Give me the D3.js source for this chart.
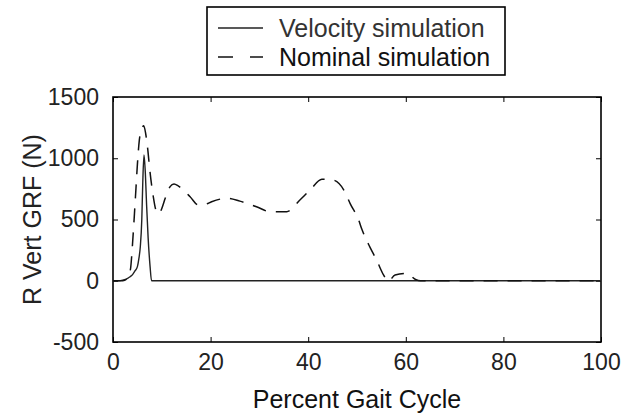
<!DOCTYPE html>
<html>
<head>
<meta charset="utf-8">
<script src="https://cdn.jsdelivr.net/npm/d3@7"></script>
<style>
  body { margin: 0; background: #fff; }
  svg text { font-family: "Liberation Sans", Arial, Helvetica, sans-serif; }
</style>
</head>
<body>
<svg id="chart" width="634" height="415"></svg>
<script>
// percent gait cycle vs vertical ground reaction force (N)
const velX = [0, 1, 2, 3, 3.5, 4, 4.5, 5, 5.3, 5.6, 5.9, 6.1, 6.35, 6.6, 6.9, 7.2, 7.6, 7.9, 10, 30, 60, 100];
const velY = [0, 0, 5, 20, 33, 50, 80, 115, 180, 280, 500, 800, 1026, 900, 604, 350, 115, 0, 0, 0, 0, 0];

const nomX = [0, 2, 3, 3.6, 4, 4.4, 4.7, 5.0, 5.4, 5.9, 6.3, 6.7, 7.1, 7.5, 8.2, 8.9, 9.4, 10.0, 10.7, 11.7, 12.5, 13.4, 15.8, 17.5, 19, 20.2, 23.3, 26, 29.4, 32.2, 35.6, 38.3, 40.4, 42.8, 45.1, 47.5, 48.6, 50.3, 51.0, 52.7, 54.0, 55.4, 56.4, 57.8, 60.2, 62, 63, 100];
const nomY = [0, 0, 20, 100, 300, 550, 750, 950, 1150, 1240, 1265, 1200, 1080, 920, 700, 564, 545, 590, 673, 768, 790, 773, 686, 618, 625, 645, 673, 650, 604, 564, 564, 659, 741, 828, 822, 727, 630, 500, 420, 270, 170, 50, -5, 47, 61, 10, 0, 0];

const xTicks = [0, 20, 40, 60, 80, 100];
const yTicks = [-500, 0, 500, 1000, 1500];
const seriesNames = ["Velocity simulation", "Nominal simulation"];

const svg = d3.select("#chart");
const margin = { top: 97, right: 33, bottom: 73, left: 113 };
const width = 634 - margin.left - margin.right;
const height = 415 - margin.top - margin.bottom;

const g = svg.append("g").attr("transform", `translate(${margin.left},${margin.top})`);

const x = d3.scaleLinear().domain([0, 100]).range([0, width]);
const y = d3.scaleLinear().domain([-500, 1500]).range([height, 0]);

// axes with inward ticks, like matlab (plain hyphen for negatives)
const tick = 5;
const fmt = (d) => String(d);
g.append("g")
  .attr("transform", `translate(0,${height})`)
  .call(d3.axisBottom(x).tickValues(xTicks).tickSize(-tick).tickPadding(12).tickFormat(fmt));
g.append("g")
  .call(d3.axisTop(x).tickValues(xTicks).tickSize(-tick).tickFormat(""));
g.append("g")
  .call(d3.axisLeft(y).tickValues(yTicks).tickSize(-tick).tickPadding(14).tickFormat(fmt));
g.append("g")
  .attr("transform", `translate(${width},0)`)
  .call(d3.axisRight(y).tickValues(yTicks).tickSize(-tick).tickFormat(""));

g.selectAll(".domain").remove();
g.selectAll(".tick line").attr("stroke", "#000").attr("stroke-width", 1);
g.selectAll(".tick text")
  .attr("fill", "#222")
  .style("font-size", "23px");

g.append("rect")
  .attr("width", width)
  .attr("height", height)
  .attr("fill", "none")
  .attr("stroke", "#000")
  .attr("stroke-width", 1.6);

const line = d3.line()
  .x((d) => x(d[0]))
  .y((d) => y(d[1]))
  .curve(d3.curveMonotoneX);

g.append("path")
  .datum(velX.map((v, i) => [v, velY[i]]))
  .attr("fill", "none")
  .attr("stroke", "#222")
  .attr("stroke-width", 1.4)
  .attr("d", line);

g.append("path")
  .datum(nomX.map((v, i) => [v, nomY[i]]))
  .attr("fill", "none")
  .attr("stroke", "#111")
  .attr("stroke-width", 1.5)
  .attr("stroke-dasharray", "14,10")
  .attr("d", line);

// axis labels
svg.append("text")
  .attr("x", margin.left + width / 2)
  .attr("y", 408)
  .attr("text-anchor", "middle")
  .style("font-size", "25px")
  .attr("fill", "#111")
  .text("Percent Gait Cycle");

svg.append("text")
  .attr("transform", `translate(41,${margin.top + height / 2}) rotate(-90)`)
  .attr("text-anchor", "middle")
  .style("font-size", "25px")
  .attr("fill", "#222")
  .text("R Vert GRF (N)");

// legend
const legend = svg.append("g");
legend.append("rect")
  .attr("x", 207).attr("y", 7)
  .attr("width", 298).attr("height", 68)
  .attr("fill", "#fff")
  .attr("stroke", "#000")
  .attr("stroke-width", 1.6);

const rows = [28, 57];
legend.append("line")
  .attr("x1", 218).attr("x2", 263)
  .attr("y1", rows[0]).attr("y2", rows[0])
  .attr("stroke", "#222").attr("stroke-width", 1.4);
legend.append("line")
  .attr("x1", 218).attr("x2", 263)
  .attr("y1", rows[1]).attr("y2", rows[1])
  .attr("stroke", "#111").attr("stroke-width", 1.5)
  .attr("stroke-dasharray", "15,17");

seriesNames.forEach((name, i) => {
  legend.append("text")
    .attr("x", 279)
    .attr("y", rows[i] + 9)
    .style("font-size", "25px")
    .attr("fill", i === 0 ? "#333" : "#111")
    .text(name);
});
</script>
</body>
</html>
